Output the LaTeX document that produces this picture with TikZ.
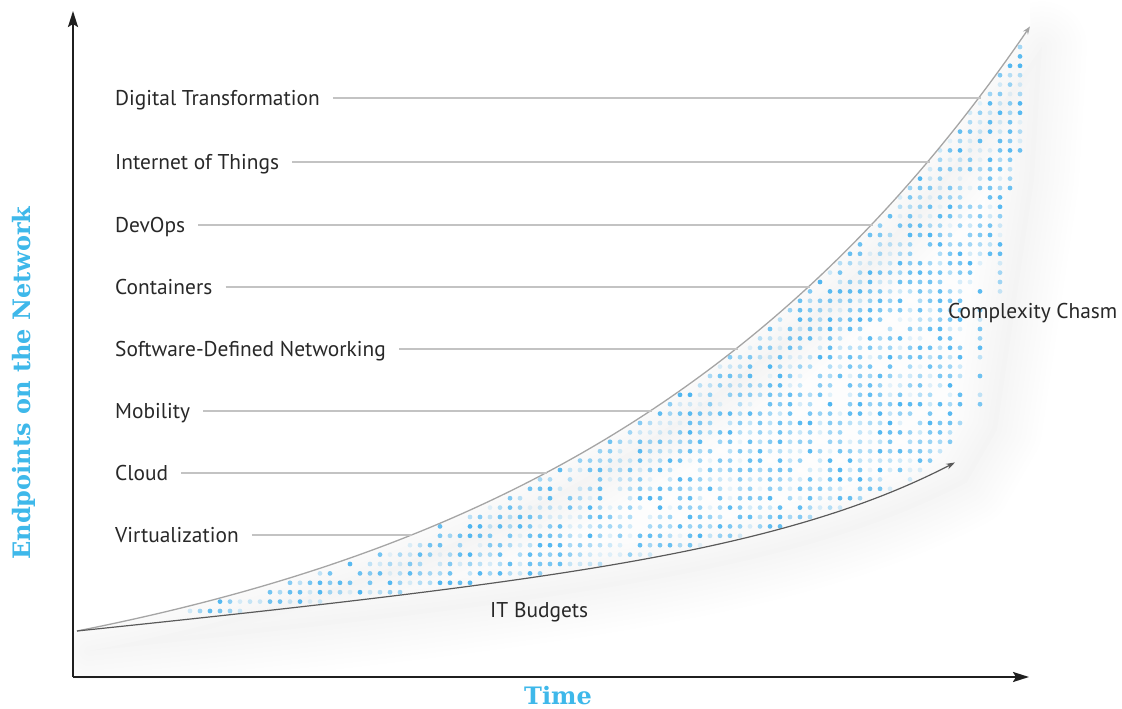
\documentclass[tikz,border=0pt]{standalone}
\usepackage{fontspec}
\setmainfont{PT Sans}
\newfontfamily\axisfont{DejaVu Serif}
\usetikzlibrary{arrows.meta}
\definecolor{txt}{RGB}{40,40,40}
\definecolor{axblue}{RGB}{62,184,234}
\definecolor{dotblue}{RGB}{80,182,240}
\definecolor{hl}{RGB}{195,195,195}
\definecolor{upc}{RGB}{165,165,165}
\definecolor{loc}{RGB}{90,90,90}
\begin{document}
\begin{tikzpicture}[x=1pt,y=-1pt,
  declare function={up(\t)=631-93.9*(exp(0.0021*(\t-77))-1);
    lo(\t)=631-0.1*(\t-77)-0.802*(exp(0.00527*(\t-77))-1);
    upinv(\t)=77+ln((631-\t)/93.9+1)/0.0021;},
  lbl/.style={anchor=west,inner sep=0pt,text height=15pt,text depth=0pt,text=txt,font=\fontsize{21.4}{26}\selectfont},
  hline/.style={draw=hl,line width=1.8pt},
  axislbl/.style={text=axblue,font=\axisfont\bfseries\fontsize{24}{29}\selectfont,inner sep=0pt},
  axisline/.style={draw=black!88,line width=2.2pt,-{Stealth[length=16pt,width=10pt,inset=3pt]}},
  upcurve/.style={draw=upc,line width=1.3pt,-{Stealth[length=8pt,width=6pt]}},
  locurve/.style={draw=loc,line width=1.2pt,-{Stealth[length=9pt,width=6pt]}}]
\useasboundingbox (0,0) rectangle (1122,709);
\def\chasm{(77,631) -- plot[domain=77:1030,samples=60] (\x,{up(\x)}) -- (1022,160) -- (985,410) -- (955,462) -- plot[domain=955:77,samples=60] (\x,{lo(\x)}) -- cycle}
% soft shadow
\foreach \w in {90,80,70,60,50,40,30,20,10}{
  \draw[black,opacity=0.005,line width=\w pt,line join=round,shift={(12,20)}] \chasm;
}
\fill[black,opacity=0.006,shift={(12,20)}] \chasm;
\fill[white] (60,631) -- plot[domain=77:1030,samples=60] (\x,{up(\x)}) -- (1030,0) -- (60,0) -- cycle;
\fill[white] (0,679) rectangle (1122,709);
\fill[white] (0,0) rectangle (73,709);
% dots
\pgfmathsetseed{7}
\foreach \i in {0,...,84}{
  \pgfmathsetmacro\cx{180+10*\i}
  \pgfmathsetmacro\yt{up(\cx)+3}
  \ifnum\i<75
    \pgfmathsetmacro\yb{lo(\cx)-2.5}
  \else
    \pgfmathsetmacro\yb{{466,456,442,425,290,408,262,292,205,155}[int(\i-75)]}
  \fi
  \pgfmathtruncatemacro\ka{ceil(\yt/9.4)}
  \pgfmathtruncatemacro\kb{floor(\yb/9.4)}
  \ifnum\kb<\ka\relax\else
    \foreach \k in {\ka,...,\kb}{
      \pgfmathsetmacro\rr{rnd}
      \pgfmathsetmacro\op{0.12+0.88*rnd}
      \ifdim\rr pt>0.1pt
        \fill[dotblue,opacity=\op] (\cx,\k*9.4) circle[radius=2.4pt];
      \fi
    }
  \fi
}
% curves
\draw[upcurve] plot[domain=77:1030,samples=120] (\x,{up(\x)});
\draw[locurve] plot[domain=77:955,samples=120] (\x,{lo(\x)});
% labels and guide lines
\node[lbl] (dt) at (115,98) {Digital Transformation};
\node[lbl] (iot) at (115,162) {Internet of Things};
\node[lbl] (devops) at (115,225) {DevOps};
\node[lbl] (cont) at (115,287) {Containers};
\node[lbl] (sdn) at (115,349) {Software-Defined Networking};
\node[lbl] (mob) at (115,411) {Mobility};
\node[lbl] (cloud) at (115,473) {Cloud};
\node[lbl] (virt) at (115,535) {Virtualization};
\foreach \n/\yy in {dt/98,iot/162,devops/225,cont/287,sdn/349,mob/411,cloud/473,virt/535}{
  \coordinate (\n-e) at ({upinv(\yy)},\yy);
  \draw[hline] ([xshift=13pt]\n.east) -- (\n-e);
}
\node[lbl] (cc) at (948,311) {Complexity Chasm};
\node[lbl] (itb) at (490,610) {IT Budgets};
% axes
\coordinate (origin) at (73,677);
\coordinate (ytop) at (73,11);
\coordinate (xend) at (1029,677);
\draw[axisline] (origin) -- (ytop);
\draw[axisline] (origin) -- (xend);
\node[axislbl] (time) at (558,696) {Time};
\node[axislbl,rotate=90] (endp) at (24,383) {Endpoints on the Network};
\end{tikzpicture}
\end{document}
